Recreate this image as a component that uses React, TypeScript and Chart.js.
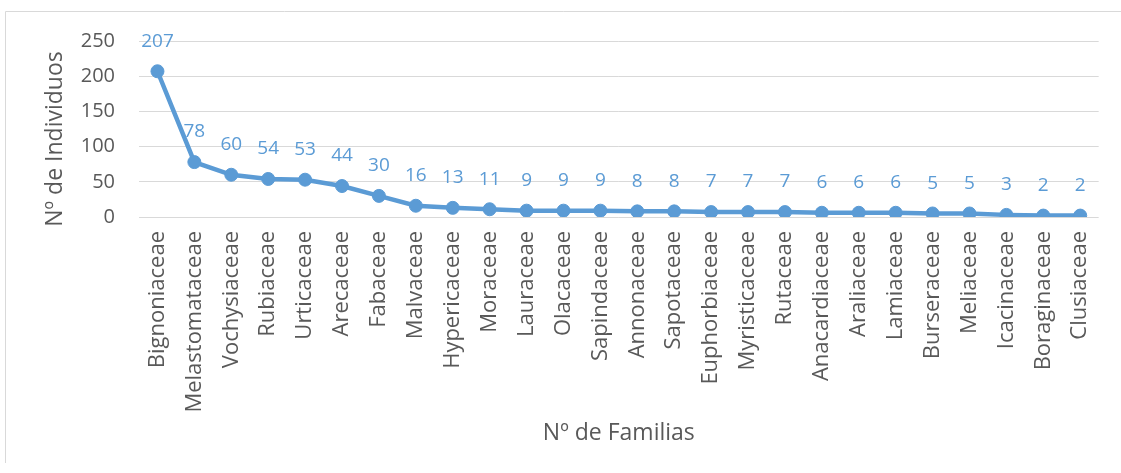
import React, { useEffect, useRef } from "react";
import { Chart, registerables } from "chart.js";

Chart.register(...registerables);

const families = [
  "Bignoniaceae", "Melastomataceae", "Vochysiaceae", "Rubiaceae", "Urticaceae",
  "Arecaceae", "Fabaceae", "Malvaceae", "Hypericaceae", "Moraceae", "Lauraceae",
  "Olacaceae", "Sapindaceae", "Annonaceae", "Sapotaceae", "Euphorbiaceae",
  "Myristicaceae", "Rutaceae", "Anacardiaceae", "Araliaceae", "Lamiaceae",
  "Burseraceae", "Meliaceae", "Icacinaceae", "Boraginaceae", "Clusiaceae",
];
const individuos = [207, 78, 60, 54, 53, 44, 30, 16, 13, 11, 9, 9, 9, 8, 8, 7, 7, 7, 6, 6, 6, 5, 5, 3, 2, 2];
const yTicks = [0, 50, 100, 150, 200, 250];

const yTitle = "Nº de Individuos";
const xTitle = "Nº de Familias";

const FONT = "'Open Sans', sans-serif";
const TEXT = "#595959";
const BLUE = "#5B9BD5";
const GRID = "#D9D9D9";

const decorPlugin = {
  id: "decor",
  beforeDraw(chart: any) {
    const ctx = chart.ctx;
    ctx.save();
    ctx.strokeStyle = GRID;
    ctx.lineWidth = 1;
    ctx.beginPath();
    ctx.moveTo(5.5, 463);
    ctx.lineTo(5.5, 11.5);
    ctx.lineTo(1121, 11.5);
    ctx.stroke();
    ctx.restore();
  },
  afterDatasetsDraw(chart: any) {
    const ctx = chart.ctx;
    const area = chart.chartArea;
    ctx.save();
    const meta = chart.getDatasetMeta(0);
    ctx.fillStyle = BLUE;
    ctx.font = `19px ${FONT}`;
    ctx.textAlign = "center";
    ctx.textBaseline = "middle";
    meta.data.forEach((pt: any, i: number) => {
      ctx.fillText(String(individuos[i]), pt.x, pt.y - 30);
    });
    ctx.fillStyle = TEXT;
    ctx.font = `23px ${FONT}`;
    ctx.textAlign = "center";
    ctx.textBaseline = "middle";
    ctx.fillText(xTitle, (area.left + area.right) / 2, 433);
    ctx.translate(55, 139);
    ctx.rotate(-Math.PI / 2);
    ctx.fillText(yTitle, 0, 0);
    ctx.restore();
  },
};

export default function App() {
  const ref = useRef<HTMLCanvasElement | null>(null);
  useEffect(() => {
    document.body.style.margin = "0";
    const canvas = ref.current!;
    const chart = new Chart(canvas, {
      type: "line",
      data: {
        labels: families,
        datasets: [
          {
            data: individuos,
            borderColor: BLUE,
            backgroundColor: BLUE,
            borderWidth: 4.5,
            pointRadius: 6.5,
            pointBorderWidth: 1,
            pointBackgroundColor: BLUE,
            pointBorderColor: BLUE,
            tension: 0,
          },
        ],
      },
      options: {
        animation: false,
        responsive: false,
        devicePixelRatio: 1,
        layout: { padding: { left: 0, top: 41, right: 20, bottom: 0 } },
        plugins: { legend: { display: false }, tooltip: { enabled: false } },
        scales: {
          x: {
            offset: true,
            grid: { display: false, drawTicks: false },
            border: { display: false },
            ticks: {
              color: TEXT,
              font: { family: FONT, size: 22 },
              minRotation: 90,
              maxRotation: 90,
              padding: 14,
              autoSkip: false,
            },
            afterFit(scale: any) {
              scale.height = 256;
            },
          },
          y: {
            min: 0,
            max: 250,
            afterBuildTicks(scale: any) {
              scale.ticks = yTicks.map((v) => ({ value: v }));
            },
            grid: { color: GRID, lineWidth: 1, drawTicks: false },
            border: { display: false },
            ticks: {
              color: TEXT,
              font: { family: FONT, size: 20 },
              padding: 24,
            },
            afterFit(scale: any) {
              scale.width = 139;
            },
          },
        },
      },
      plugins: [decorPlugin],
    });
    return () => chart.destroy();
  }, []);
  return <canvas ref={ref} width={1121} height={473} style={{ display: "block" }} />;
}
